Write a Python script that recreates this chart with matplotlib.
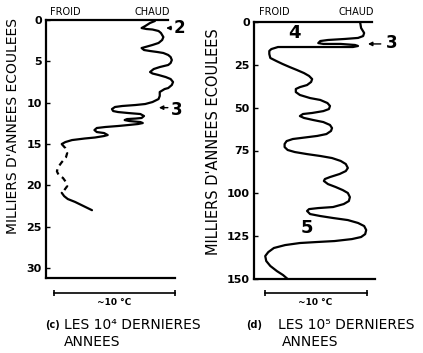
import matplotlib
matplotlib.use('Agg')
import matplotlib.pyplot as plt

# ---------------- data ----------------
# Panel (c): last 10^4 years. temperature (°C above the cold edge of the frame), age (kyr)
c_temp = [9.0, 8.6, 8.2, 7.9, 8.3, 8.8, 9.3, 9.5, 9.7, 9.6, 9.3, 8.8, 8.2, 7.9, 8.1, 8.6,
          9.2, 9.7, 10.1, 10.3, 10.4, 10.3, 10.1, 9.4, 8.9, 8.6, 8.8, 9.3, 9.9, 10.3, 10.5, 10.4,
          10.1, 9.8, 9.4, 9.4, 9.3, 8.8, 8.2, 7.4, 6.3, 5.7, 5.45, 5.55, 5.95, 6.8, 7.8, 8.1,
          7.9, 7.4, 6.7, 6.5, 6.9, 7.8, 8.0, 7.6, 6.8, 5.95, 4.9, 4.2, 4.0, 4.2, 4.8, 5.1,
          4.8, 4.05, 3.2, 2.15, 1.6, 1.3]
c_age = [0.12, 0.36, 0.73, 0.97, 1.09, 1.15, 1.33, 1.57, 2.06, 2.42, 2.78, 3.02, 3.27, 3.39, 3.63, 3.75,
         3.87, 3.99, 4.23, 4.48, 4.84, 5.20, 5.44, 5.69, 5.93, 6.29, 6.47, 6.65, 6.90, 7.14, 7.50, 7.86,
         8.23, 8.35, 8.71, 9.19, 9.56, 9.92, 10.16, 10.28, 10.40, 10.52, 10.77, 11.01, 11.13, 11.25, 11.37, 11.61,
         11.85, 11.92, 11.98, 12.10, 12.22, 12.34, 12.46, 12.58, 12.70, 12.82, 12.94, 13.06, 13.31, 13.55, 13.67, 13.91,
         14.03, 14.21, 14.33, 14.52, 14.76, 15.0]
c_dash_temp = [1.3, 1.6, 1.75, 1.65, 1.3, 1.0, 0.9, 1.05, 1.4, 1.65, 1.75, 1.5, 1.3]
c_dash_age = [15.0, 15.5, 16.1, 16.6, 17.2, 17.8, 18.3, 18.75, 19.1, 19.6, 20.1, 20.6, 20.8]
c_tail_temp = [1.3, 1.5, 1.8, 2.4, 3.1, 3.8]
c_tail_age = [20.9, 21.3, 21.65, 22.0, 22.5, 23.0]

# Panel (d): last 10^5 years
d_temp = [10.4, 10.5, 10.8, 10.7, 10.2, 8.9, 7.25, 6.5, 6.3, 6.8, 8.5, 9.9, 10.2, 9.7, 8.2, 7.0,
          5.3, 3.6, 2.35, 1.7, 1.5, 1.5, 1.6, 2.2, 2.8, 3.5, 4.2, 4.9, 5.4, 5.7, 5.6, 5.2,
          4.5, 4.1, 4.1, 4.5, 5.5, 6.5, 7.2, 7.45, 7.35, 6.8, 5.7, 4.8, 4.5, 4.9, 5.8, 6.8,
          7.45, 7.65, 7.55, 7.1, 6.2, 5.0, 3.8, 3.2, 3.0, 3.0, 3.3, 4.0, 5.2, 6.5, 7.65, 8.5,
          9.0, 9.2, 9.0, 8.4, 7.45, 6.95, 6.85, 7.25, 8.0, 8.7, 9.2, 9.4, 9.3, 8.8, 7.75, 6.3,
          5.4, 5.2, 5.5, 6.5, 7.75, 9.2, 10.2, 10.8, 11.0, 10.9, 10.5, 9.6, 7.9, 6.2, 4.5, 3.05,
          1.95, 1.4, 1.1, 1.2, 1.6, 2.25, 2.85, 3.3]
d_age = [0.0, 3.5, 6.4, 8.2, 9.3, 9.9, 10.5, 11.1, 12.3, 12.8, 12.8, 13.4, 14.0, 14.6, 14.6, 14.6,
         14.6, 14.6, 14.6, 15.8, 16.9, 18.7, 21.0, 22.8, 24.5, 26.3, 28.0, 29.8, 31.5, 33.3, 35.0, 36.8,
         38.0, 39.1, 40.9, 42.6, 44.4, 45.5, 47.3, 49.0, 50.8, 52.0, 53.1, 53.7, 54.9, 56.0, 57.2, 58.4,
         60.1, 61.9, 63.6, 65.4, 66.5, 67.4, 68.3, 69.5, 71.2, 73.0, 74.7, 75.9, 77.1, 78.2, 79.4, 81.1,
         82.9, 85.2, 87.0, 88.7, 90.5, 91.65, 92.8, 94.6, 96.3, 98.1, 99.8, 102.2, 104.5, 106.25, 108.0, 108.6,
         109.2, 110.3, 112.1, 113.25, 114.4, 115.6, 117.3, 119.1, 121.4, 123.8, 125.5, 126.7, 127.85, 128.4, 129.0, 130.2,
         131.9, 134.3, 136.6, 139.5, 142.4, 145.4, 147.7, 150.0]

c_ticks = [0, 5, 10, 15, 20, 25, 30]
d_ticks = [0, 25, 50, 75, 100, 125, 150]
scale_label = "~10 °C"
ylabel = "MILLIERS D'ANNEES ECOULEES"

# ---------------- figure ----------------
W, H = 423, 353
fig = plt.figure(figsize=(W / 100, H / 100), dpi=100)
LW = 1.6


def px_axes(l, t, r, b):
    return fig.add_axes([l / W, 1 - b / H, (r - l) / W, (b - t) / H])


def style(ax, ticks):
    for s in ('top', 'right', 'bottom'):
        ax.spines[s].set_visible(False)
    ax.spines['left'].set_linewidth(LW)
    ax.set_xticks([])
    ax.set_yticks(ticks)
    ax.tick_params(axis='y', direction='in', length=3, width=1, labelsize=8, pad=3)
    for lab in ax.get_yticklabels():
        lab.set_fontweight('bold')
    ax.patch.set_alpha(0)


line_kw = dict(color='k', lw=LW, solid_joinstyle='round', solid_capstyle='round')
arrow_kw = dict(arrowstyle='-|>', lw=1, color='k', mutation_scale=6)

# panel (c)
axc = px_axes(46, 20, 182, 278)
axc.set_xlim(0, (182 - 46) / 12.1)
axc.set_ylim(31.2, 0)
style(axc, c_ticks)
axc.plot(c_temp, c_age, **line_kw)
axc.plot(c_dash_temp, c_dash_age, color='k', lw=LW, dashes=(2.5, 2))
axc.plot(c_tail_temp, c_tail_age, **line_kw)
axc.plot([0, 10.1], [0, 0], color='k', lw=LW, clip_on=False)
axc.plot([0, 10.7], [31.2, 31.2], color='k', lw=LW, clip_on=False)
# scale bar
axc.plot([0.66, 10.66], [33.0, 33.0], color='k', lw=1.2, clip_on=False,
         marker='|', markersize=5, markeredgewidth=1.2)
axc.text(5.66, 34.2, scale_label, ha='center', va='center', fontsize=6.5,
         fontweight='bold')
# labels
axc.annotate('', xy=(9.7, 0.97), xytext=(10.6, 0.97), arrowprops=arrow_kw,
             annotation_clip=False)
axc.text(11.0, 0.97, '2', ha='center', va='center', fontsize=12, fontweight='bold',
         clip_on=False)
axc.annotate('', xy=(9.1, 10.6), xytext=(10.3, 10.6), arrowprops=arrow_kw,
             annotation_clip=False)
axc.text(10.8, 10.9, '3', ha='center', va='center', fontsize=12, fontweight='bold',
         clip_on=False)

# panel (d)
axd = px_axes(254, 22, 378, 279)
axd.set_xlim(0, (378 - 254) / 10.2)
axd.set_ylim(150, 0)
style(axd, d_ticks)
axd.plot(d_temp, d_age, **line_kw)
axd.plot([0, 11.6], [0, 0], color='k', lw=LW, clip_on=False)
axd.plot([0, 11.9], [150, 150], color='k', lw=LW, clip_on=False)
axd.plot([1.1, 11.1], [158.2, 158.2], color='k', lw=1.2, clip_on=False,
         marker='|', markersize=5, markeredgewidth=1.2)
axd.text(6.0, 163.5, scale_label, ha='center', va='center', fontsize=6.5,
         fontweight='bold')
axd.annotate('', xy=(10.9, 12.8), xytext=(12.7, 12.8), arrowprops=arrow_kw,
             annotation_clip=False)
axd.text(13.5, 12.5, '3', ha='center', va='center', fontsize=12, fontweight='bold',
         clip_on=False)
axd.text(4.0, 6.4, '4', ha='center', va='center', fontsize=13, fontweight='bold')
axd.text(5.2, 120.3, '5', ha='center', va='center', fontsize=13, fontweight='bold')


def ftext(x, y, s, **kw):
    fig.text(x / W, 1 - y / H, s, **kw)


# header labels
for x, s in [(65, 'FROID'), (152, 'CHAUD'), (274, 'FROID'), (356, 'CHAUD')]:
    ftext(x, 12, s, ha='center', va='center', fontsize=7)

# y labels
ftext(13, 126, ylabel, rotation=90, ha='center', va='center', fontsize=10)
ftext(214, 142, ylabel, rotation=90, ha='center', va='center', fontsize=10.5)

# captions
ftext(52, 325, '(c)', ha='center', va='center', fontsize=7, fontweight='bold')
ftext(64, 325, 'LES 10⁴ DERNIERES', ha='left', va='center', fontsize=10)
ftext(64, 342, 'ANNEES', ha='left', va='center', fontsize=10)
ftext(254, 325, '(d)', ha='center', va='center', fontsize=7, fontweight='bold')
ftext(278, 325, 'LES 10⁵ DERNIERES', ha='left', va='center', fontsize=10)
ftext(282, 342, 'ANNEES', ha='left', va='center', fontsize=10)

fig.savefig('out.png', dpi=100)
